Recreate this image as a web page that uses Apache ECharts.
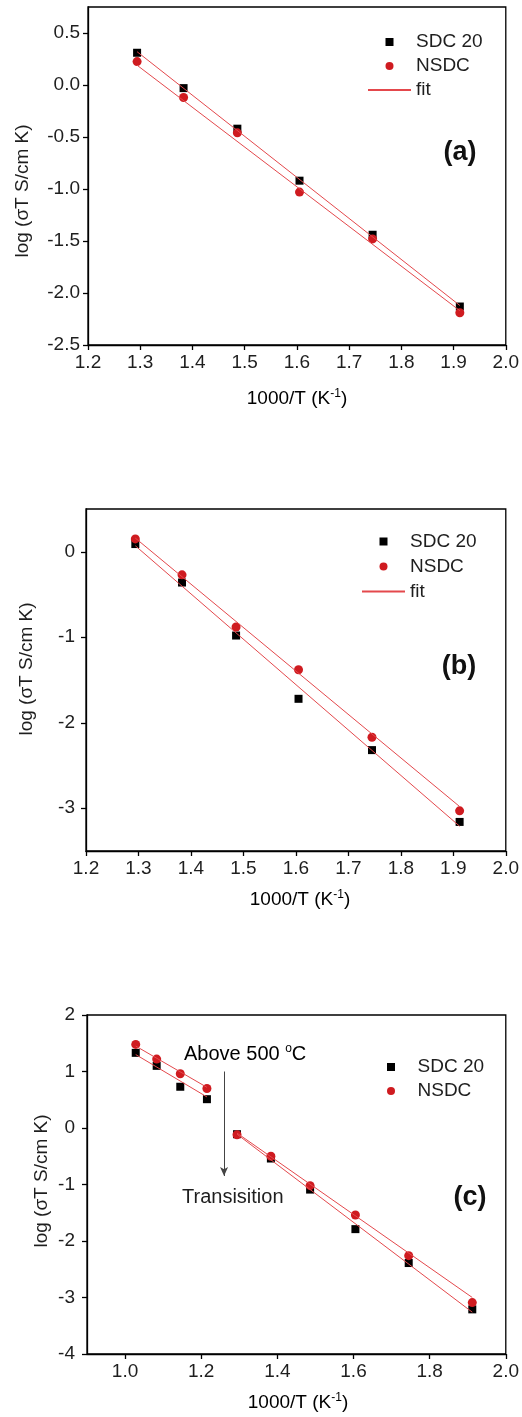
<!DOCTYPE html>
<html><head><meta charset="utf-8">
<script src="https://cdn.jsdelivr.net/npm/echarts@6/dist/echarts.min.js"></script>
<style>html,body{margin:0;padding:0;background:#fff}#c{width:522px;height:1417px}</style>
</head><body><div id="c"></div>
<script>
// ---- data ----
const xA = [1.294, 1.383, 1.486, 1.605, 1.745, 1.912];
const sdcA = [0.31, -0.03, -0.42, -0.92, -1.44, -2.13];
const nsdcA = [0.225, -0.12, -0.46, -1.03, -1.48, -2.19];
const fitXA = [1.294, 1.912];
const fitSdcA = [0.32, -2.12];
const fitNsdcA = [0.19, -2.17];

const xB = [1.294, 1.383, 1.486, 1.605, 1.745, 1.912];
const sdcB = [0.09, -0.36, -0.98, -1.72, -2.32, -3.16];
const nsdcB = [0.15, -0.27, -0.88, -1.38, -2.17, -3.03];
const fitXB = [1.294, 1.912];
const fitSdcB = [0.07, -3.21];
const fitNsdcB = [0.16, -2.98];

const xC = [1.028, 1.083, 1.145, 1.215, 1.294, 1.383, 1.486, 1.605, 1.745, 1.912];
const sdcC = [1.33, 1.10, 0.73, 0.51, -0.11, -0.54, -1.09, -1.79, -2.39, -3.21];
const nsdcC = [1.48, 1.22, 0.96, 0.70, -0.12, -0.50, -1.02, -1.54, -2.26, -3.09];
const fitXCHigh = [1.028, 1.215];
const fitSdcCHigh = [1.30, 0.55];
const fitNsdcCHigh = [1.45, 0.72];
const fitXCLow = [1.294, 1.912];
const fitSdcCLow = [-0.11, -3.26];
const fitNsdcCLow = [-0.09, -3.00];
const arrowX = 1.26, arrowTop = 1.0, arrowBottom = -0.85;

// ticks
const xTicksAB = [1.2, 1.3, 1.4, 1.5, 1.6, 1.7, 1.8, 1.9, 2.0];
const xTicksC = [1.0, 1.2, 1.4, 1.6, 1.8, 2.0];
const yTicksA = [-2.5, -2.0, -1.5, -1.0, -0.5, 0.0, 0.5];
const yTicksB = [-3, -2, -1, 0];
const yTicksC = [-4, -3, -2, -1, 0, 1, 2];

const FONT = 'Liberation Sans, Arial, Helvetica, sans-serif';
const TXT = '#1e1e1e';
const RED = '#cf1b20';
const FIT = '#e4484c';

const pair = (xs, ys) => xs.map((x, i) => [x, ys[i]]);

function xAx(gi, min, max, ticks, dec) {
  return {
    type: 'value', gridIndex: gi, min: min, max: max,
    axisLine: { show: true, onZero: false, lineStyle: { color: '#000', width: 1.3 } },
    axisTick: { show: true, length: 5, lineStyle: { color: '#000', width: 1.3 }, customValues: ticks },
    axisLabel: { customValues: ticks, fontSize: 19, fontFamily: FONT, color: TXT, margin: 8,
      formatter: v => Number(v).toFixed(dec) },
    splitLine: { show: false }
  };
}
function yAx(gi, min, max, ticks, dec, margin) {
  return {
    type: 'value', gridIndex: gi, min: min, max: max,
    axisLine: { show: true, onZero: false, lineStyle: { color: '#000', width: 1.3 } },
    axisTick: { show: true, length: 5, lineStyle: { color: '#000', width: 1.3 }, customValues: ticks },
    axisLabel: { customValues: ticks, fontSize: 19, fontFamily: FONT, color: TXT, margin: margin,
      formatter: v => Number(v).toFixed(dec) },
    splitLine: { show: false }
  };
}
function sdc(gi, xs, ys) {
  return { name: 'SDC 20', type: 'scatter', xAxisIndex: gi, yAxisIndex: gi, symbol: 'rect', symbolSize: 8,
    symbolKeepAspect: true, itemStyle: { color: '#000', opacity: 1 }, data: pair(xs, ys), z: 3 };
}
function nsdc(gi, xs, ys) {
  return { name: 'NSDC', type: 'scatter', xAxisIndex: gi, yAxisIndex: gi, symbol: 'circle', symbolSize: 9,
    symbolKeepAspect: true, itemStyle: { color: RED, opacity: 1 }, data: pair(xs, ys), z: 3 };
}
function fit(gi, xs, ys) {
  return { name: 'fit', type: 'line', xAxisIndex: gi, yAxisIndex: gi, symbol: 'none', showSymbol: false, silent: true,
    lineStyle: { color: FIT, width: 1 }, itemStyle: { color: FIT }, data: pair(xs, ys), z: 4 };
}
const legTxt = lh => ({ fontSize: 19, fontFamily: FONT, color: TXT, lineHeight: lh });
const legData = (withFit) => {
  const d = [{ name: 'SDC 20', icon: 'path://M0 0 L10 0 L10 10 L0 10 Z' }, { name: 'NSDC', icon: 'circle' }];
  if (withFit) d.push({ name: 'fit', itemStyle: { opacity: 0 } });
  return d;
};
const sup = { fontSize: 12, lineHeight: 12, verticalAlign: 'top', fontFamily: FONT, color: TXT };
const norm = { fontSize: 19, lineHeight: 22, fontFamily: FONT, color: TXT };
function xTitle(x, y) {
  return { type: 'text', x: x, y: y, style: { text: '{n|1000/T (K}{s|-1}{n|)}', rich: { n: norm, s: sup },
    align: 'center', verticalAlign: 'middle', textAlign: 'center', textVerticalAlign: 'middle' } };
}
function yTitle(x, y) {
  return { type: 'text', x: x, y: y, rotation: Math.PI / 2,
    style: { text: 'log (σT S/cm K)', font: '19px ' + FONT, fill: TXT,
      align: 'center', verticalAlign: 'middle', textAlign: 'center', textVerticalAlign: 'middle' } };
}
function tag(t, x, y) {
  return { type: 'text', x: x, y: y, style: { text: t, font: 'bold 27px ' + FONT, fill: '#111',
    align: 'center', verticalAlign: 'middle', textAlign: 'center', textVerticalAlign: 'middle' } };
}
function leg(withFit, left, top, lh, gap) {
  return { data: legData(withFit), orient: 'vertical', left: left, top: top, padding: 0, itemWidth: 43, itemHeight: 8,
    itemGap: 0, itemTextGap: gap, selectedMode: false, symbolKeepAspect: true, textStyle: legTxt(lh) };
}

const chart = echarts.init(document.getElementById('c'), null, { renderer: 'canvas' });
chart.setOption({
  animation: false,
  backgroundColor: '#fff',
  grid: [
    { left: 88, top: 7, width: 418, height: 338, show: true, borderColor: '#000', borderWidth: 1.3 },
    { left: 86, top: 509, width: 422, height: 342, show: true, borderColor: '#000', borderWidth: 1.3 },
    { left: 87, top: 1015, width: 419, height: 339, show: true, borderColor: '#000', borderWidth: 1.3 }
  ],
  xAxis: [xAx(0, 1.2, 2.0, xTicksAB, 1), xAx(1, 1.2, 2.0, xTicksAB, 1), xAx(2, 0.9, 2.0, xTicksC, 1)],
  yAxis: [yAx(0, -2.5, 0.75, yTicksA, 1, 8), yAx(1, -3.5, 0.5, yTicksB, 0, 11), yAx(2, -4, 2, yTicksC, 0, 12)],
  legend: [leg(true, 367, 30, 24, 7), leg(true, 361, 529, 25, 8), leg(false, 387, 1055, 24, 8)],
  series: [
    sdc(0, xA, sdcA), nsdc(0, xA, nsdcA), fit(0, fitXA, fitSdcA), fit(0, fitXA, fitNsdcA),
    sdc(1, xB, sdcB), nsdc(1, xB, nsdcB), fit(1, fitXB, fitSdcB), fit(1, fitXB, fitNsdcB),
    sdc(2, xC, sdcC), nsdc(2, xC, nsdcC),
    fit(2, fitXCHigh, fitSdcCHigh), fit(2, fitXCHigh, fitNsdcCHigh),
    fit(2, fitXCLow, fitSdcCLow), fit(2, fitXCLow, fitNsdcCLow),
    { name: 'arrow', type: 'line', xAxisIndex: 2, yAxisIndex: 2, data: [], silent: true,
      markLine: { silent: true, symbol: ['none', 'arrow'], symbolSize: [6, 9], label: { show: false },
        lineStyle: { color: '#444', width: 1, type: 'solid' }, animation: false,
        data: [[{ coord: [arrowX, arrowTop] }, { coord: [arrowX, arrowBottom] }]] } }
  ],
  graphic: [
    yTitle(23, 191), yTitle(27, 669), yTitle(42, 1181),
    xTitle(297, 399), xTitle(300, 900), xTitle(298, 1403),
    tag('(a)', 460, 153), tag('(b)', 459, 667), tag('(c)', 470, 1198),
    { type: 'text', x: 184, y: 1054, style: { text: '{n|Above 500 }{s|o}{n|C}', rich: { n: Object.assign({}, norm, { fontSize: 20 }), s: sup },
      align: 'left', verticalAlign: 'middle', textAlign: 'left', textVerticalAlign: 'middle' } },
    { type: 'text', x: 182, y: 1197, style: { text: 'Transisition', font: '20px ' + FONT, fill: TXT,
      align: 'left', verticalAlign: 'middle', textAlign: 'left', textVerticalAlign: 'middle' } }
  ]
});
</script></body></html>
